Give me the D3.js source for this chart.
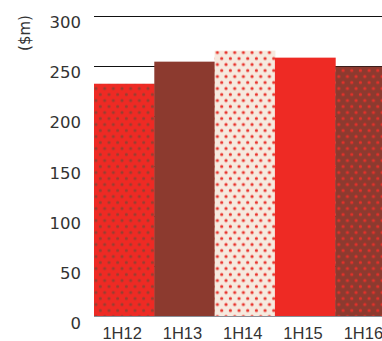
<!DOCTYPE html>
<html>
<head>
<meta charset="utf-8">
<script src="https://cdn.jsdelivr.net/npm/d3@7"></script>
<style>
  html, body { margin: 0; padding: 0; background: #fff; }
  svg { display: block; }
</style>
</head>
<body>
<script>
// Half-year earnings, $m
const categories = ["1H12", "1H13", "1H14", "1H15", "1H16"];
const values = [232, 254, 265, 258, 249];
const yTicks = [0, 50, 100, 150, 200, 250, 300];
const unitLabel = "($m)";

const W = 382, H = 341;
const RED = "#ee2a24", BROWN = "#8c3a2f", CREAM = "#f6eadf";

const svg = d3.select("body").append("svg")
  .attr("width", W).attr("height", H);

const defs = svg.append("defs");
// staggered dot patterns: background colour + dot colour
function dotPattern(id, bg, dot, r) {
  const p = defs.append("pattern")
    .attr("id", id)
    .attr("patternUnits", "userSpaceOnUse")
    .attr("x", 96).attr("y", 88.5)
    .attr("width", 8.67).attr("height", 12);
  p.append("rect").attr("width", 8.67).attr("height", 12).attr("fill", bg);
  [[0, 0], [4.335, 6], [8.67, 0], [0, 12], [8.67, 12]].forEach(([cx, cy]) =>
    p.append("circle").attr("cx", cx).attr("cy", cy).attr("r", r).attr("fill", dot));
  return `url(#${id})`;
}
const fills = [
  dotPattern("brownOnRed", RED, "#963f31", 1.55),
  BROWN,
  dotPattern("redOnCream", CREAM, "#e8322b", 1.6),
  RED,
  dotPattern("redOnBrown", BROWN, "#e5302a", 1.6)
];

const x = d3.scaleBand().domain(categories).range([94, 395.5]).padding(0);
const y = d3.scaleLinear().domain([0, 300]).range([316.5, 15.5]);

// gridlines (behind bars)
svg.append("g").selectAll("line")
  .data(yTicks.filter(d => d > 0))
  .join("line")
  .attr("x1", 94).attr("x2", W)
  .attr("y1", d => Math.round(y(d)) + 0.5)
  .attr("y2", d => Math.round(y(d)) + 0.5)
  .attr("stroke", "#111").attr("stroke-width", 1);

// bars
svg.append("g").selectAll("rect")
  .data(values)
  .join("rect")
  .attr("x", (d, i) => x(categories[i]))
  .attr("width", x.bandwidth() + 0.5)
  .attr("y", d => y(d))
  .attr("height", d => y(0) - y(d))
  .attr("fill", (d, i) => fills[i]);

// baseline
svg.append("line")
  .attr("x1", 94).attr("x2", W)
  .attr("y1", y(0)).attr("y2", y(0))
  .attr("stroke", "#8a9099").attr("stroke-width", 1.2);

// y axis labels
const yAxis = d3.axisLeft(y).tickValues(yTicks).tickSize(0).tickPadding(0);
const gy = svg.append("g").attr("transform", "translate(81,0)").call(yAxis);
gy.select(".domain").remove();
gy.selectAll("text")
  .attr("dy", null)
  .attr("y", 12)
  .attr("x", 0)
  .attr("text-anchor", "end")
  .attr("fill", "#333")
  .style("font-family", "'DejaVu Sans', sans-serif")
  .style("font-size", "16.5px");

// x axis labels
const xAxis = d3.axisBottom(x).tickSize(0).tickPadding(0);
const gx = svg.append("g").attr("transform", `translate(0,${y(0)})`).call(xAxis);
gx.select(".domain").remove();
gx.selectAll("text")
  .attr("dy", null)
  .attr("y", 22.5)
  .attr("x", -2)
  .attr("fill", "#333")
  .style("font-family", "'Liberation Sans', Arial, sans-serif")
  .style("font-size", "16.5px");

// unit label
svg.append("text")
  .attr("transform", "translate(30,33) rotate(-90)")
  .attr("text-anchor", "middle")
  .attr("fill", "#333")
  .style("font-family", "'DejaVu Sans', sans-serif")
  .style("font-size", "15px")
  .text(unitLabel);
</script>
</body>
</html>
